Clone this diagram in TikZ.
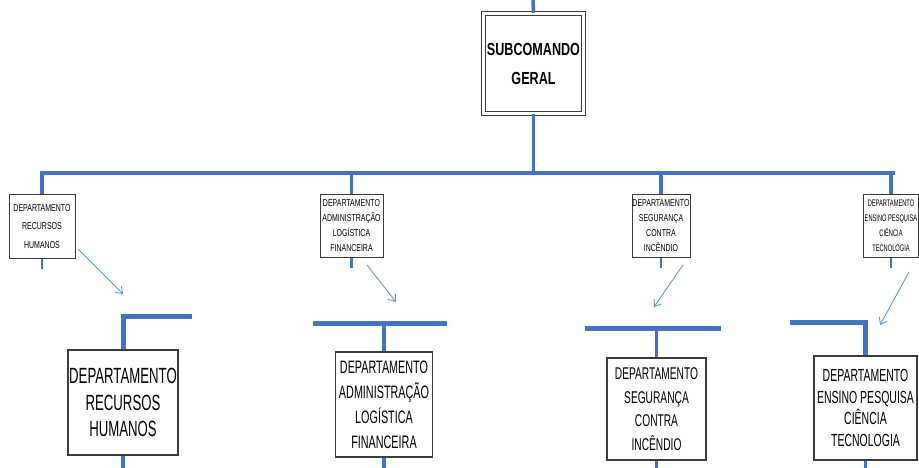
\documentclass[tikz,border=0pt]{standalone}
\usepackage{fontspec}
\setmainfont{Liberation Sans}
\newfontfamily\smallnarrow[FakeStretch=0.7]{Liberation Sans}
\newfontfamily\tinynarrow[FakeStretch=0.6]{Liberation Sans}
\newfontfamily\bignarrow[FakeStretch=0.6]{Liberation Sans}
\newfontfamily\topnarrow[FakeStretch=0.72]{Liberation Sans}
\usetikzlibrary{arrows.meta,calc}
\definecolor{orgblue}{RGB}{68,114,196}
\definecolor{arrblue}{RGB}{91,155,213}
\definecolor{boxgray}{RGB}{60,60,60}
\tikzset{
  topbox/.style={draw=boxgray, double=white, double distance=2.5pt, line width=1.5pt,
    minimum width=100pt, minimum height=100pt, inner sep=0pt, align=center,
    font=\topnarrow\bfseries\fontsize{17.5}{29}\selectfont, fill=white},
  smallbox/.style={draw=boxgray, line width=1pt, inner sep=0pt, align=center,
    font=\smallnarrow\fontsize{10}{15}\selectfont, fill=white},
  bigbox/.style={draw=boxgray, line width=1.4pt, inner sep=0pt, align=center, fill=white},
  trunk/.style={draw=orgblue, line width=3.5pt},
  thick trunk/.style={draw=orgblue, line width=5pt},
  pointer/.style={draw=arrblue, line width=0.9pt, -{Straight Barb[length=6pt,width=9pt]}},
}
\begin{document}
\begin{tikzpicture}[x=1pt,y=-1pt]
\useasboundingbox (0,0) rectangle (919,468);

% coordinates for free ends
\coordinate (topend) at (533,0);
\coordinate (hl) at (40,173);
\coordinate (hr) at (895,173);

% top box
\node[topbox] (top) at (533.5,63.5) {SUBCOMANDO\\GERAL};

% small boxes
\node[smallbox, minimum width=66pt, minimum height=63pt, font=\smallnarrow\fontsize{10}{18.5}\selectfont] (s1) at (42,226.5) {DEPARTAMENTO\\RECURSOS\\HUMANOS};
\node[smallbox, minimum width=63pt, minimum height=62pt] (s2) at (351.5,226) {DEPARTAMENTO\\ADMINISTRAÇÃO\\LOGÍSTICA\\FINANCEIRA};
\node[smallbox, minimum width=58pt, minimum height=62pt] (s3) at (661,226) {DEPARTAMENTO\\SEGURANÇA\\CONTRA\\INCÊNDIO};
\node[smallbox, minimum width=55pt, minimum height=62pt, font=\tinynarrow\fontsize{9.5}{15}\selectfont] (s4) at (891,226) {DEPARTAMENTO\\ENSINO PESQUISA\\CIÊNCIA\\TECNOLOGIA};

% top trunk
\draw[trunk] (top.north) -- (topend);
\draw[trunk] (top.south) -- (top.south |- hl);
\draw[trunk] (hl) -- (hr);
\foreach \s in {s1,s2,s3,s4}{
  \draw[trunk] (\s.north |- hl) -- (\s.north);
  \coordinate (\s tail) at ($(\s.south)+(0,10)$);
  \draw[trunk, line width=2.5pt] (\s.south) -- (\s tail);
}

% big boxes
\node[bigbox, minimum width=110pt, minimum height=105pt, font=\bignarrow\fontsize{22}{26.5}\selectfont] (b1) at (123,402.5) {DEPARTAMENTO\\RECURSOS\\HUMANOS};
\node[bigbox, minimum width=97pt, minimum height=105pt, font=\bignarrow\fontsize{18}{25}\selectfont] (b2) at (384,404.5) {DEPARTAMENTO\\ADMINISTRAÇÃO\\LOGÍSTICA\\FINANCEIRA};
\node[bigbox, minimum width=99pt, minimum height=102pt, font=\bignarrow\fontsize{17}{23.5}\selectfont] (b3) at (656.5,409) {DEPARTAMENTO\\SEGURANÇA\\CONTRA\\INCÊNDIO};
\node[bigbox, minimum width=103pt, minimum height=104pt, font=\bignarrow\fontsize{17.5}{21.5}\selectfont] (b4) at (865.5,408) {DEPARTAMENTO\\ENSINO PESQUISA\\CIÊNCIA\\TECNOLOGIA};

% bottom trunks
\coordinate (b1r) at (192,316);
\draw[thick trunk] (b1.north) -- (b1.north |- b1r) -- (b1r);
\coordinate (b2l) at (313,323);
\coordinate (b2r) at (447,323);
\draw[thick trunk] (b2l) -- (b2r);
\draw[trunk] (b2.north |- b2l) -- (b2.north);
\coordinate (b3l) at (585,328);
\coordinate (b3r) at (721,328);
\draw[thick trunk] (b3l) -- (b3r);
\draw[trunk] (b3.north |- b3l) -- (b3.north);
\coordinate (b4l) at (790,322);
\draw[thick trunk] (b4l) -- (b4.north |- b4l) -- (b4.north);

% tails
\foreach \b in {b1,b2,b3,b4}{
  \coordinate (\b tail) at (\b.south |- 0,468);
  \draw[trunk] (\b.south) -- (\b tail);
}

% pointers
\coordinate (p1a) at (78,249);   \coordinate (p1b) at (123,294);
\coordinate (p2a) at (367,265);  \coordinate (p2b) at (396,302);
\coordinate (p3a) at (683,265);  \coordinate (p3b) at (654,307);
\coordinate (p4a) at (909,272);  \coordinate (p4b) at (880,325);
\draw[pointer] (p1a) -- (p1b);
\draw[pointer] (p2a) -- (p2b);
\draw[pointer] (p3a) -- (p3b);
\draw[pointer] (p4a) -- (p4b);
\end{tikzpicture}
\end{document}
